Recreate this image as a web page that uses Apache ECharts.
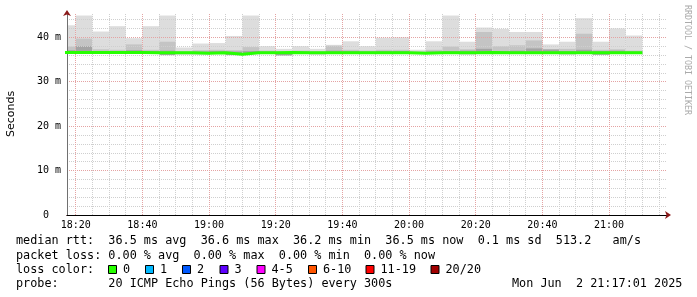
<!DOCTYPE html>
<html><head><meta charset="utf-8">
<script src="https://cdn.jsdelivr.net/npm/echarts@6/dist/echarts.min.js"></script>
<style>html,body{margin:0;padding:0;background:#fff}#c{width:697px;height:297px}</style>
</head><body><div id="c"></div>
<script>
// ---- data ----
const barEnd = ['18:20','18:25','18:30','18:35','18:40','18:45','18:50','18:55','19:00','19:05','19:10','19:15','19:20','19:25','19:30','19:35','19:40','19:45','19:50','19:55','20:00','20:05','20:10','20:15','20:20','20:25','20:30','20:35','20:40','20:45','20:50','20:55','21:00','21:05','21:10'];
const maxRtt   = [42.7,44.9,41.3,42.5,39.8,42.5,44.9,37.7,38.6,38.7,40.3,44.9,38.0,37.4,38.0,37.4,38.3,39.1,38.0,39.9,40.0,37.2,39.1,44.9,39.0,42.2,41.9,41.2,41.2,38.4,39.0,44.3,39.0,42.0,40.4];
const upperRtt = [37.9,39.7,37.3,37.2,38.4,37.2,39.0,36.9,37.1,37.2,37.1,37.8,37.0,36.8,37.0,36.9,38.1,37.2,37.0,37.2,37.2,36.8,37.2,37.9,37.3,41.2,38.0,38.2,39.3,37.0,37.4,40.8,37.2,37.3,37.0];
const innerRtt = [37.1,38.0,36.9,36.9,37.1,36.9,37.0,36.7,36.8,36.9,36.8,36.9,36.8,36.7,36.8,36.7,37.0,36.9,36.8,36.9,36.9,36.7,36.8,36.9,37.0,37.4,36.9,37.0,37.5,37.3,36.9,37.2,36.9,37.0,36.8];
const minRtt   = [36.3,36.3,36.3,36.3,36.3,36.3,36.0,36.2,36.2,36.3,36.0,36.3,36.3,35.9,36.3,36.2,36.3,36.3,36.3,36.3,36.3,36.3,36.3,36.3,36.2,36.3,36.3,36.3,36.3,36.3,36.2,36.3,36.1,36.3,36.3];
const medianRtt= [36.6,36.6,36.6,36.6,36.6,36.5,36.5,36.5,36.4,36.5,36.2,36.5,36.5,36.6,36.5,36.5,36.5,36.5,36.5,36.5,36.5,36.4,36.5,36.5,36.5,36.6,36.5,36.5,36.5,36.5,36.5,36.5,36.5,36.5,36.5];
const stepMinutes = 5;
const xExtent = ['18:17:23','21:17:23'];
const xTickLabels = ['18:20','18:40','19:00','19:20','19:40','20:00','20:20','20:40','21:00'];
const yTickValues = [0,10,20,30,40];
const yTickLabels = ['0  ','10 m','20 m','30 m','40 m'];
const yMax = 45.47;
const rttStats = ['36.5','36.6','36.2','36.5','0.1','513.2'];
const lossStats = ['0.00','0.00','0.00','0.00'];
const lossLabels = ['0','1','2','3','4-5','6-10','11-19','20/20'];
const lossColors = ['#26ff00','#00b8ff','#0059ff','#5e00ff','#ff00ff','#ff5500','#ff0000','#a10000'];
const probeText = '20 ICMP Echo Pings (56 Bytes) every 300s';
const dateText = 'Mon Jun  2 21:17:01 2025';

// ---- helpers ----
function toMin(s){const p=s.split(':').map(Number);return p[0]*60+p[1]+(p[2]||0)/60;}
function fmtMin(v){const h=Math.floor(v/60),m=Math.round(v-h*60);return String(h).padStart(2,'0')+':'+String(m).padStart(2,'0');}
const xMin = toMin(xExtent[0]), xMax = toMin(xExtent[1]);
const smokeData = barEnd.map((t,i)=>[toMin(t), minRtt[i], innerRtt[i], upperRtt[i], maxRtt[i]]);
const lineData = [[toMin(barEnd[0]) - stepMinutes, medianRtt[0]]].concat(barEnd.map((t,i)=>[toMin(t), medianRtt[i]]));
const labelMinutes = xTickLabels.map(toMin);
const gridMarks = [];
for (let v = Math.ceil(xMin/stepMinutes)*stepMinutes; v <= xMax; v += stepMinutes) gridMarks.push(v);

const FONT = '"DejaVu Sans Mono", monospace';
const FS = 11.8;
const AFS = 10;
const minorGrid = '#cfcfcf', majorGrid = '#e4a3a3';

function renderSmoke(params, api){
  const end = api.value(0), start = end - stepMinutes;
  const lo = api.value(1), inner = api.value(2), up = api.value(3), hi = api.value(4);
  const cs = params.coordSys;
  const layers = [[hi,'#dddddd'],[up,'#c4c4c4'],[inner,'#a4a4a4']];
  const children = [];
  layers.forEach(([top,col])=>{
    const p1 = api.coord([start, top]), p2 = api.coord([end, lo]);
    const r = echarts.graphic.clipRectByRect(
      {x:p1[0], y:p1[1], width:p2[0]-p1[0], height:p2[1]-p1[1]},
      {x:cs.x, y:cs.y, width:cs.width, height:cs.height});
    if (r) children.push({type:'rect', shape:r, style:{fill:col}});
  });
  return {type:'group', children};
}

const legendY = [241, 255.5, 269.5, 283.5];
const graphic = [];
function txt(x,y,s,extra){graphic.push(Object.assign({type:'text', x, y, silent:true, style:{text:s, font:FS+'px '+FONT, fill:'#000', textVerticalAlign:'middle'}}, extra||{}));}
txt(16, legendY[0], 'median rtt:  '+rttStats[0]+' ms avg  '+rttStats[1]+' ms max  '+rttStats[2]+' ms min  '+rttStats[3]+' ms now  '+rttStats[4]+' ms sd  '+rttStats[5]+'   am/s');
txt(16, legendY[1], 'packet loss: '+lossStats[0]+' % avg  '+lossStats[1]+' % max  '+lossStats[2]+' % min  '+lossStats[3]+' % now');
txt(16, legendY[2], 'loss color:');
const boxX = [108,145,182,219.5,256.5,308,365.5,430.5];
lossLabels.forEach((l,i)=>{
  graphic.push({type:'rect', silent:true, shape:{x:boxX[i]+0.5, y:265.5, width:8, height:8}, style:{fill:lossColors[i], stroke:'#000', lineWidth:1}});
  txt(boxX[i]+15, legendY[2], l);
});
txt(16, legendY[3], 'probe:       '+probeText);
txt(512, legendY[3], dateText);
graphic.push({type:'text', x:687.5, y:5, rotation:-Math.PI/2, silent:true,
  style:{text:'RRDTOOL / TOBI OETIKER', font:'8.3px '+FONT, fill:'#aaaaaa', textAlign:'left', textVerticalAlign:'middle'}});

const chart = echarts.init(document.getElementById('c'), null, {renderer:'canvas'});
chart.setOption({
  animation:false,
  backgroundColor:'#ffffff',
  textStyle:{fontFamily:FONT},
  grid:{left:67, right:30, top:13, bottom:82, containLabel:false, outerBoundsMode:'none'},
  xAxis:[
    {type:'value', min:xMin, max:xMax, position:'bottom', z:3,
      axisLine:{show:true, onZero:false, symbol:['none','arrow'], symbolSize:[6,6], symbolOffset:[0,4], lineStyle:{color:'#8b1a1a', width:1}},
      axisTick:{show:false}, axisLabel:{show:false}, splitLine:{show:false}},
    {type:'value', min:xMin, max:xMax, position:'bottom', z:3,
      axisLine:{show:true, onZero:false, lineStyle:{color:'#000', width:1}},
      axisTick:{show:false},
      axisLabel:{show:true, customValues:labelMinutes, formatter:v=>fmtMin(v), margin:5, fontSize:AFS, fontFamily:FONT, color:'#000'},
      splitLine:{show:false}}
  ],
  yAxis:[
    {type:'value', min:0, max:yMax, interval:2, position:'left', z:3,
      axisLine:{show:true, onZero:false, symbol:['none','arrow'], symbolSize:[6,6], symbolOffset:[0,3], lineStyle:{color:'#8b1a1a', width:1}},
      axisTick:{show:false}, axisLabel:{show:false},
      splitLine:{show:true, showMinLine:false, showMaxLine:false, lineStyle:{color:minorGrid, type:[1,1], width:1}}},
    {type:'value', min:0, max:yMax, interval:10, position:'left', offset:0, z:3,
      name:'Seconds', nameLocation:'middle', nameGap:50, nameRotate:90,
      nameTextStyle:{fontFamily:'"DejaVu Sans", sans-serif', fontSize:11, color:'#000'},
      axisLine:{show:true, onZero:false, lineStyle:{color:'#707070', width:1}},
      axisTick:{show:false},
      axisLabel:{show:true, margin:6, fontSize:AFS, fontFamily:FONT, color:'#000', showMaxLabel:false,
        formatter:v=>{const i=yTickValues.indexOf(v);return i>=0?yTickLabels[i]:'';}},
      splitLine:{show:true, showMinLine:false, showMaxLine:false, lineStyle:{color:majorGrid, type:[1,1], width:1}}}
  ],
  series:[
    {type:'custom', name:'smoke', xAxisIndex:1, yAxisIndex:1, z:1, renderItem:renderSmoke, data:smokeData, silent:true},
    {type:'line', name:'grid', xAxisIndex:1, yAxisIndex:1, data:[], silent:true,
      markLine:{silent:true, symbol:['none','none'], z:3, animation:false, label:{show:false},
        lineStyle:{color:minorGrid, type:[1,1], width:1},
        data:gridMarks.map(v=>({xAxis:v, lineStyle:{color: labelMinutes.indexOf(v)>=0 ? majorGrid : minorGrid, type:[1,1], width:1}}))}},
    {type:'line', name:'median', xAxisIndex:1, yAxisIndex:1, z:10, step:'start', data:lineData, showSymbol:false, symbol:'none',
      lineStyle:{color:'#26ff00', width:3, cap:'butt'}, silent:true}
  ],
  graphic
});
</script></body></html>
